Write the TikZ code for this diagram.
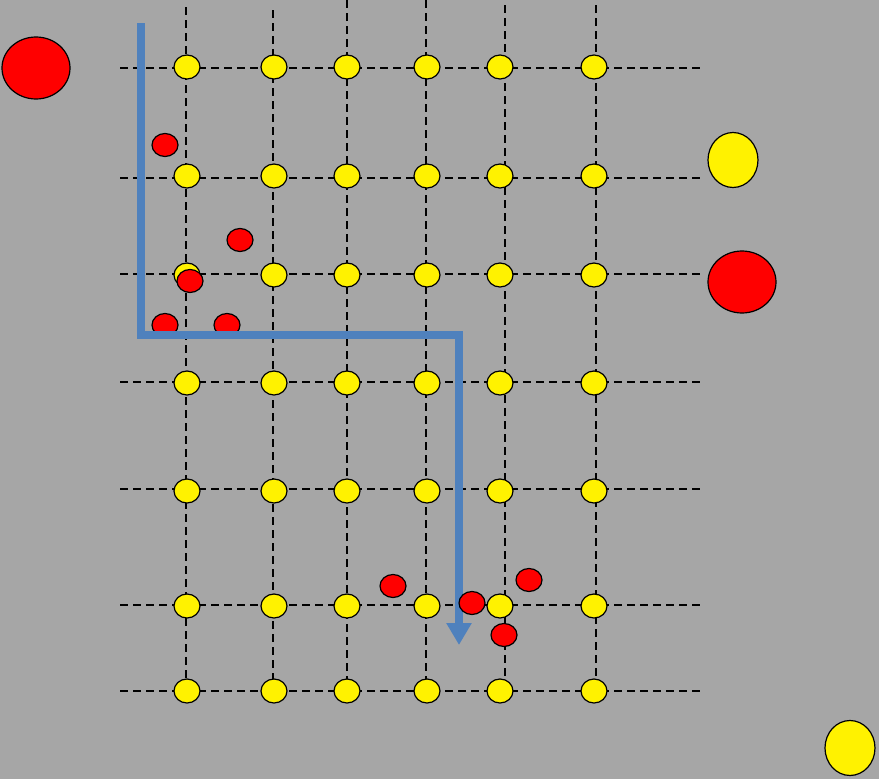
\documentclass[tikz,border=0pt]{standalone}
\usetikzlibrary{arrows.meta,shapes.geometric}
\definecolor{cBack}{RGB}{166,166,166}
\definecolor{cPath}{RGB}{79,129,189}
\tikzset{
  dot/.style={ellipse,draw=black,line width=1.2pt,inner sep=0pt},
  ydot/.style={dot,fill=yellow,minimum width=26pt,minimum height=24pt},
  rdot/.style={dot,fill=red,minimum width=26pt,minimum height=23pt},
  bigred/.style={dot,fill=red,minimum width=68pt,minimum height=62pt},
  bigyellow/.style={dot,fill=yellow,minimum width=50pt,minimum height=55pt},
  gridline/.style={line width=1.3pt,dash pattern=on 8pt off 5pt}
}

\begin{document}
\begin{tikzpicture}[x=1pt,y=-1pt,>=Stealth]
  % background
  \fill[cBack] (0,0) rectangle (879,779);
  \useasboundingbox (0,0) rectangle (879,779);
  % dashed grid
  \foreach \y in {68,178,274,382,489,605,691}
    \draw[gridline] (120,\y) -- (704,\y);
  \foreach \x/\t in {186/7,273/10,347/0,426/0,505/5,596/5}
    \draw[gridline] (\x,\t) -- (\x,690);
  % grid points
  \foreach \r/\y in {1/67,2/176,3/275,4/383,5/491,6/606,7/691}
    \foreach \c/\x in {1/187,2/274,3/347,4/427,5/500,6/594}
      \node[ydot] (g-\r-\c) at (\x,\y) {};
  % obstacles
  \foreach \i/\x/\y in {1/165/145,2/240/240,3/190/281,4/165/325,5/227/325,
                        6/393/586,7/529/580,8/504/635}
    \node[rdot] (o-\i) at (\x,\y) {};
  % large markers
  \node[bigred] (start) at (36,68) {};
  \node[bigyellow] (goalA) at (733,160) {};
  \node[bigred] (startB) at (742,282) {};
  \node[bigyellow] (goalB) at (850,748) {};
  % route
  \coordinate (p0) at (141,23);
  \coordinate (p1) at (141,335);
  \coordinate (p2) at (459,335);
  \coordinate (p3) at (459,645);
  \draw[cPath,line width=8pt,-{Triangle[width=24pt,length=22pt]}]
    (p0) -- (p1) -- (p2) -- (p3);
  \node[rdot] (o-9) at (472,603) {};
\end{tikzpicture}
\end{document}
